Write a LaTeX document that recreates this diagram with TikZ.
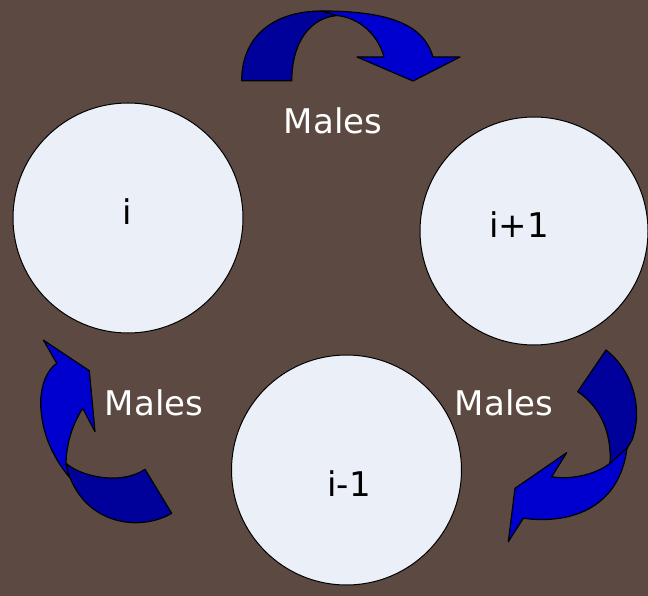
\documentclass[tikz,border=0pt]{standalone}
\usepackage{fontspec}
\setmainfont{DejaVu Sans}
\definecolor{bgbrown}{RGB}{92,74,66}
\definecolor{circfill}{RGB}{235,239,247}
\definecolor{darkblue}{RGB}{0,0,155}
\definecolor{brightblue}{RGB}{0,0,206}
\tikzset{
  pop/.style={circle, draw=black, line width=1pt, fill=circfill, minimum size=230pt, inner sep=0pt},
  lbl/.style={anchor=base, inner sep=0pt, text=white, font=\fontsize{34}{40}\selectfont},
  clbl/.style={anchor=base, inner sep=0pt, text=black, font=\fontsize{34}{40}\selectfont},
  darkpart/.style={fill=darkblue, draw=black, line width=1.2pt, line join=round},
  brightpart/.style={fill=brightblue, draw=black, line width=1.2pt, line join=round}
}
\begin{document}
\begin{tikzpicture}[x=1pt,y=-1pt]
\fill[bgbrown] (0,0) rectangle (648,596);
\useasboundingbox (0,0) rectangle (648,596);

% circles
\node[pop] (ci) at (128,218) {};
\node[pop, minimum size=228pt] (cip) at (534,231) {};
\node[pop] (cim) at (346.5,470) {};

% circle labels
\node[clbl] (ti) at (127,225) {i};
\node[clbl] (tip) at (519,238) {i+1};
\node[clbl] (tim) at (349,496.5) {i-1};

% Males labels
\node[lbl] (m1) at (333,133.5) {Males};
\node[lbl] (m2) at (154,415) {Males};
\node[lbl] (m3) at (504,415) {Males};

% top arrow
\draw[darkpart] (241.7,80.7) .. controls (241.7,35) and (275,11) .. (322,11)
  -- (337,15.5) .. controls (310,18) and (292,42) .. (291.7,80.7) -- cycle;
\draw[brightpart] (322,11) .. controls (400,11) and (425,30) .. (433,57)
  -- (460,57) -- (413,81) -- (357,57) -- (384,57)
  .. controls (378,35) and (360,18) .. (337,15.5) -- cycle;

% left arrow
\draw[brightpart] (43.3,340) -- (89.3,370.7) -- (95,431.7) -- (82.7,408.3)
  .. controls (72,425) and (66,445) .. (66,465) -- (70,478)
  .. controls (55,460) and (41,435) .. (40.7,403)
  .. controls (40.7,385) and (47,370) .. (56.7,363.3) -- cycle;
\draw[darkpart] (66,463.3) .. controls (80,476) and (120,486) .. (145,469.3)
  -- (171.7,513.3) .. controls (140,532) and (85,525) .. (68,472) -- cycle;

% right arrow
\draw[darkpart] (606,350) .. controls (634,372) and (643,410) .. (632,440)
  -- (620,460) -- (610,463.3) .. controls (612,430) and (598,405) .. (577.7,391.7) -- cycle;
\draw[brightpart] (610,463.3) .. controls (595,475) and (570,480) .. (551.7,476.7)
  -- (566.7,452.7) -- (515,488.3) -- (508.3,541.7) -- (523.3,518.3)
  .. controls (575,525) and (620,505) .. (627,448) -- cycle;
\end{tikzpicture}
\end{document}
